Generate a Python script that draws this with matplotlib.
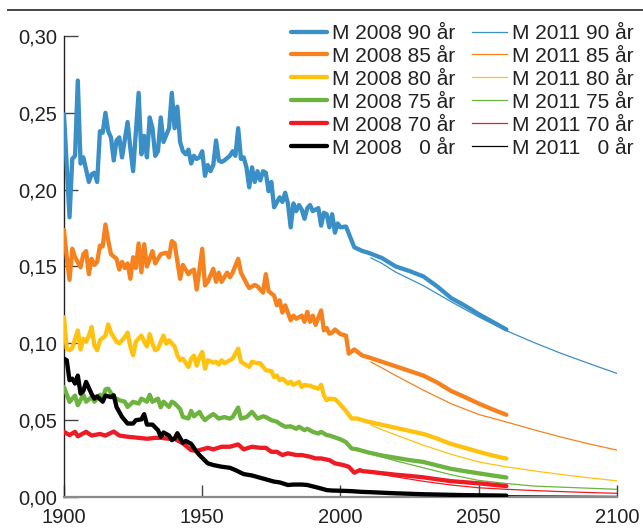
import matplotlib
matplotlib.use("Agg")
import matplotlib.pyplot as plt
from matplotlib.lines import Line2D
from matplotlib.ticker import FuncFormatter, MultipleLocator

plt.rcParams['font.family'] = ['Liberation Sans', 'DejaVu Sans']

# historical death rates (M 2008 series up to 2008)
yrs90 = [1900, 1902, 1903, 1904, 1905, 1906, 1907, 1909, 1910, 1911, 1912, 1913, 1914, 1915, 1916,
         1917, 1918, 1919, 1920, 1921, 1923, 1924, 1925, 1927, 1928, 1929, 1930, 1931, 1932, 1933,
         1934, 1935, 1936, 1938, 1939, 1940, 1941, 1942, 1943, 1944, 1945, 1946, 1947, 1948, 1949,
         1950, 1951, 1952, 1953, 1954, 1955, 1956, 1957, 1958, 1960, 1961, 1962, 1963, 1964, 1965,
         1966, 1967, 1968, 1969, 1970, 1971, 1972, 1973, 1974, 1975, 1976, 1978, 1979, 1980, 1981,
         1982, 1983, 1984, 1985, 1986, 1987, 1988, 1989, 1990, 1991, 1992, 1993, 1994, 1995, 1996,
         1997, 1998, 1999, 2000, 2002, 2004, 2005, 2008]
m90 = [0.249, 0.182, 0.220, 0.222, 0.271, 0.217, 0.221, 0.205, 0.210, 0.211, 0.205, 0.238, 0.237, 0.250, 0.238,
       0.234, 0.219, 0.232, 0.234, 0.221, 0.244, 0.227, 0.212, 0.263, 0.223, 0.235, 0.221, 0.247, 0.240, 0.222,
       0.225, 0.247, 0.231, 0.240, 0.263, 0.240, 0.254, 0.231, 0.225, 0.223, 0.226, 0.217, 0.222, 0.220, 0.221,
       0.225, 0.209, 0.216, 0.212, 0.216, 0.232, 0.219, 0.218, 0.219, 0.222, 0.225, 0.222, 0.240, 0.220, 0.221,
       0.2145, 0.2015, 0.2145, 0.205, 0.212, 0.206, 0.212, 0.211, 0.199, 0.205, 0.1885, 0.195, 0.192, 0.198, 0.191,
       0.1755, 0.191, 0.186, 0.190, 0.187, 0.181, 0.188, 0.190, 0.186, 0.187, 0.188, 0.1766, 0.185, 0.184, 0.1755,
       0.184, 0.172, 0.178, 0.1755, 0.176, 0.167, 0.1625, 0.160]

yrs85 = [1900, 1901, 1902, 1903, 1904, 1906, 1907, 1908, 1909, 1910, 1911, 1912, 1913, 1914, 1915,
         1916, 1917, 1919, 1920, 1921, 1922, 1923, 1924, 1925, 1926, 1927, 1928, 1929, 1930, 1932,
         1933, 1935, 1937, 1938, 1939, 1940, 1942, 1943, 1945, 1946, 1947, 1948, 1949, 1950, 1951,
         1952, 1954, 1955, 1956, 1957, 1959, 1960, 1961, 1963, 1964, 1966, 1967, 1969, 1970, 1972,
         1973, 1974, 1976, 1977, 1978, 1979, 1980, 1982, 1983, 1984, 1986, 1987, 1988, 1989, 1990,
         1991, 1993, 1994, 1995, 1996, 1997, 1998, 2000, 2002, 2003, 2005, 2007, 2008]
m85 = [0.1738, 0.156, 0.1413, 0.1615, 0.156, 0.1495, 0.158, 0.160, 0.145, 0.155, 0.151, 0.153, 0.1636, 0.163, 0.1773,
       0.167, 0.158, 0.155, 0.148, 0.153, 0.149, 0.152, 0.142, 0.156, 0.149, 0.165, 0.1463, 0.1645, 0.150, 0.160,
       0.152, 0.158, 0.159, 0.156, 0.1665, 0.165, 0.142, 0.151, 0.145, 0.147, 0.148, 0.135, 0.148, 0.1615, 0.1377,
       0.140, 0.1485, 0.140, 0.146, 0.140, 0.146, 0.143, 0.146, 0.155, 0.146, 0.139, 0.136, 0.138, 0.137, 0.133,
       0.145, 0.134, 0.131, 0.1247, 0.128, 0.120, 0.1247, 0.115, 0.118, 0.116, 0.118, 0.114, 0.1205, 0.114, 0.118,
       0.112, 0.1214, 0.1084, 0.110, 0.1063, 0.107, 0.109, 0.106, 0.105, 0.0933, 0.096, 0.0933, 0.092]

yrs80 = [1900, 1901, 1902, 1903, 1905, 1906, 1907, 1908, 1909, 1910, 1911, 1912, 1913, 1915, 1916,
         1917, 1919, 1920, 1921, 1922, 1923, 1924, 1925, 1926, 1928, 1929, 1930, 1931, 1932, 1933,
         1934, 1935, 1936, 1937, 1938, 1940, 1941, 1942, 1943, 1945, 1946, 1947, 1948, 1949, 1950,
         1951, 1952, 1954, 1955, 1956, 1957, 1958, 1960, 1961, 1963, 1964, 1967, 1968, 1970, 1971,
         1973, 1975, 1976, 1977, 1978, 1979, 1981, 1982, 1983, 1985, 1986, 1987, 1988, 1989, 1990,
         1992, 1993, 1994, 1995, 1996, 1998, 1999, 2000, 2001, 2002, 2004, 2006, 2008]
m80 = [0.117, 0.0965, 0.0955, 0.097, 0.1084, 0.096, 0.103, 0.101, 0.105, 0.1106, 0.0985, 0.0955, 0.102, 0.105, 0.1123,
       0.107, 0.101, 0.100, 0.102, 0.104, 0.107, 0.098, 0.0922, 0.101, 0.105, 0.101, 0.098, 0.106, 0.0997, 0.0955,
       0.0965, 0.101, 0.105, 0.0997, 0.102, 0.098, 0.0922, 0.089, 0.090, 0.0846, 0.090, 0.092, 0.0855, 0.091, 0.0944,
       0.0835, 0.089, 0.0875, 0.088, 0.0862, 0.089, 0.087, 0.089, 0.090, 0.0965, 0.088, 0.0846, 0.088, 0.087, 0.087,
       0.0825, 0.082, 0.078, 0.079, 0.076, 0.077, 0.0738, 0.075, 0.073, 0.0749, 0.0716, 0.073, 0.0725, 0.0725, 0.0716,
       0.0705, 0.073, 0.0662, 0.063, 0.064, 0.0637, 0.062, 0.060, 0.058, 0.056, 0.0511, 0.0511, 0.050]

yrs75 = [1900, 1902, 1904, 1905, 1907, 1908, 1910, 1911, 1913, 1914, 1915, 1916, 1918, 1920, 1922,
         1923, 1925, 1927, 1928, 1930, 1931, 1932, 1934, 1935, 1936, 1938, 1939, 1940, 1942, 1943,
         1945, 1946, 1947, 1949, 1950, 1951, 1952, 1954, 1956, 1958, 1960, 1961, 1963, 1964, 1966,
         1968, 1970, 1972, 1973, 1975, 1977, 1978, 1980, 1982, 1984, 1985, 1987, 1988, 1990, 1992,
         1993, 1995, 1996, 1998, 2000, 2002, 2004, 2006, 2008]
m75 = [0.0716, 0.0619, 0.066, 0.0597, 0.0665, 0.0620, 0.065, 0.062, 0.0665, 0.064, 0.070, 0.0705, 0.0648, 0.063, 0.062,
       0.0586, 0.0619, 0.0608, 0.064, 0.062, 0.0665, 0.0619, 0.064, 0.0584, 0.062, 0.0586, 0.062, 0.061, 0.0573, 0.0521,
       0.0511, 0.056, 0.0525, 0.0554, 0.0521, 0.050, 0.0516, 0.054, 0.051, 0.052, 0.051, 0.052, 0.0582, 0.051, 0.052,
       0.0554, 0.051, 0.0525, 0.052, 0.050, 0.049, 0.0477, 0.0457, 0.0460, 0.0444, 0.0457, 0.0435, 0.0444, 0.0424, 0.0413,
       0.0424, 0.0403, 0.040, 0.0388, 0.0375, 0.0357, 0.0316, 0.031, 0.030]

yrs70 = [1900, 1902, 1904, 1905, 1908, 1910, 1913, 1915, 1918, 1920, 1923, 1927, 1930, 1933, 1935,
         1938, 1940, 1943, 1946, 1948, 1950, 1952, 1954, 1957, 1960, 1963, 1965, 1968, 1971, 1973,
         1975, 1977, 1979, 1981, 1984, 1986, 1989, 1991, 1993, 1996, 1998, 2001, 2003, 2005, 2007, 2008]
m70 = [0.0424, 0.0403, 0.0424, 0.0395, 0.0424, 0.040, 0.041, 0.040, 0.0426, 0.040, 0.0392, 0.0385, 0.0379, 0.0385, 0.0385,
       0.0379, 0.0379, 0.0349, 0.0305, 0.030, 0.031, 0.032, 0.031, 0.0327, 0.0327, 0.0342, 0.031, 0.0327, 0.032, 0.032,
       0.0294, 0.0294, 0.0273, 0.0284, 0.0273, 0.0273, 0.0262, 0.0251, 0.0251, 0.024, 0.0219, 0.0208, 0.0197, 0.0158,
       0.0175, 0.0168]

yrs0 = [1900, 1901, 1902, 1903, 1904, 1905, 1906, 1907, 1908, 1910, 1911, 1912, 1914, 1915, 1917,
        1918, 1919, 1921, 1923, 1925, 1926, 1928, 1929, 1930, 1932, 1934, 1935, 1936, 1938, 1939,
        1940, 1941, 1943, 1944, 1946, 1948, 1949, 1950, 1952, 1954, 1957, 1960, 1962, 1965, 1968,
        1970, 1973, 1976, 1978, 1981, 1983, 1986, 1988, 1990, 1992, 1995, 1997, 2001, 2004, 2008]
m0 = [0.090, 0.089, 0.076, 0.077, 0.0738, 0.079, 0.0673, 0.069, 0.0749, 0.067, 0.064, 0.0655, 0.062, 0.066, 0.065,
      0.0662, 0.0586, 0.0521, 0.0478, 0.0478, 0.050, 0.0505, 0.0539, 0.0471, 0.0471, 0.0435, 0.0392, 0.042, 0.040, 0.037,
      0.038, 0.0415, 0.0353, 0.0365, 0.0346, 0.0294, 0.0273, 0.0255, 0.0219, 0.0208, 0.0197, 0.019, 0.0175, 0.0149, 0.014,
      0.013, 0.0115, 0.010, 0.0095, 0.0078, 0.0081, 0.0081, 0.0078, 0.0069, 0.006, 0.0045, 0.0042, 0.004, 0.0038, 0.0033]

# projections
p08_years = [2010, 2015, 2020, 2025, 2030, 2035, 2040, 2045, 2050, 2055, 2060]
p08_90 = [0.159, 0.1555, 0.150, 0.147, 0.1435, 0.137, 0.1295, 0.1245, 0.119, 0.114, 0.109]
p08_85 = [0.091, 0.088, 0.085, 0.082, 0.079, 0.0745, 0.069, 0.065, 0.0608, 0.057, 0.0535]
p08_80 = [0.049, 0.047, 0.045, 0.043, 0.041, 0.038, 0.0345, 0.032, 0.0294, 0.027, 0.025]
p08_75 = [0.029, 0.027, 0.0255, 0.024, 0.0228, 0.0205, 0.0183, 0.0168, 0.0154, 0.014, 0.0127]
p08_70 = [0.0165, 0.0155, 0.0145, 0.0137, 0.0128, 0.0115, 0.0103, 0.0096, 0.0089, 0.008, 0.0071]
p08_0 = [0.0032, 0.0028, 0.0024, 0.0021, 0.0018, 0.0016, 0.0014, 0.0012, 0.0011, 0.001, 0.0009]

p11_years = [2011, 2015, 2020, 2030, 2040, 2050, 2060, 2070, 2080, 2090, 2100]
p11_90 = [0.1556, 0.152, 0.1463, 0.1375, 0.1271, 0.1172, 0.1082, 0.1005, 0.0933, 0.0868, 0.0804]
p11_85 = [0.0879, 0.084, 0.079, 0.0695, 0.0607, 0.0537, 0.0488, 0.0437, 0.0389, 0.0345, 0.0305]
p11_80 = [0.0468, 0.0438, 0.0404, 0.0337, 0.0278, 0.0228, 0.0196, 0.017, 0.0146, 0.0125, 0.0105]
p11_75 = [0.028, 0.026, 0.0235, 0.019, 0.0145, 0.0108, 0.0088, 0.0071, 0.0064, 0.0057, 0.005]
p11_70 = [0.0158, 0.0146, 0.0131, 0.0102, 0.0078, 0.006, 0.005, 0.0042, 0.0035, 0.0029, 0.0024]
p11_0 = [0.003, 0.0027, 0.0023, 0.0017, 0.0013, 0.001, 0.0008, 0.0007, 0.0006, 0.0005, 0.0004]

ages = ['90', '85', '80', '75', '70', '0']
colors = ['#3a8fc6', '#f5821f', '#ffc20e', '#6db33f', '#ed1c24', '#000000']
hist = [(yrs90, m90), (yrs85, m85), (yrs80, m80), (yrs75, m75), (yrs70, m70), (yrs0, m0)]
proj08 = [p08_90, p08_85, p08_80, p08_75, p08_70, p08_0]
proj11 = [p11_90, p11_85, p11_80, p11_75, p11_70, p11_0]

fig = plt.figure(figsize=(6.43, 5.29), dpi=100)
ax = fig.add_axes([0.0995, 0.0605, 0.86, 0.8715])

thick = []
thin = []
for i in range(6):
    l, = ax.plot(p11_years, proj11[i], color=colors[i], lw=0.9, zorder=2)
    thin.append(l)
for i in range(6):
    x = hist[i][0] + p08_years
    y = hist[i][1] + proj08[i]
    l, = ax.plot(x, y, color=colors[i], lw=3.1, zorder=3 + i,
                 solid_joinstyle='round', solid_capstyle='round')
    thick.append(l)

labels08 = []
labels11 = []
for a in ages:
    pad = '   ' if a == '0' else ' '
    labels08.append('M 2008' + pad + a + ' år')
    labels11.append('M 2011' + pad + a + ' år')

fig.legend(thick + thin, labels08 + labels11, ncol=2, loc='upper right',
           bbox_to_anchor=(0.986, 0.955), frameon=False, fontsize=15,
           handlelength=1.7, handletextpad=0.25, columnspacing=0.8,
           labelspacing=0.19, borderpad=0, borderaxespad=0,
           labelcolor='#222222')

ax.set_xlim(1900, 2100)
ax.set_ylim(0, 0.30)
ax.xaxis.set_major_locator(MultipleLocator(50))
ax.yaxis.set_major_locator(MultipleLocator(0.05))
ax.yaxis.set_major_formatter(FuncFormatter(lambda v, p: f"{v:.2f}".replace('.', ',')))

ax.spines['top'].set_visible(False)
ax.spines['right'].set_visible(False)
ax.spines['left'].set_color('#222222')
ax.spines['left'].set_linewidth(1.0)
ax.spines['bottom'].set_color('#8a8a8a')
ax.spines['bottom'].set_linewidth(1.6)
ax.tick_params(axis='y', direction='in', length=10, width=1, color='#444444',
               labelsize=14.5, labelcolor='#222222', pad=5)
ax.tick_params(axis='x', direction='in', length=9, width=1, color='#444444',
               labelsize=14.5, labelcolor='#222222', pad=8)

# rule line at the top
fig.add_artist(Line2D([0.012, 1.0], [0.982, 0.982], color='#444444', lw=1.4))

plt.savefig('out.png', dpi=100)
